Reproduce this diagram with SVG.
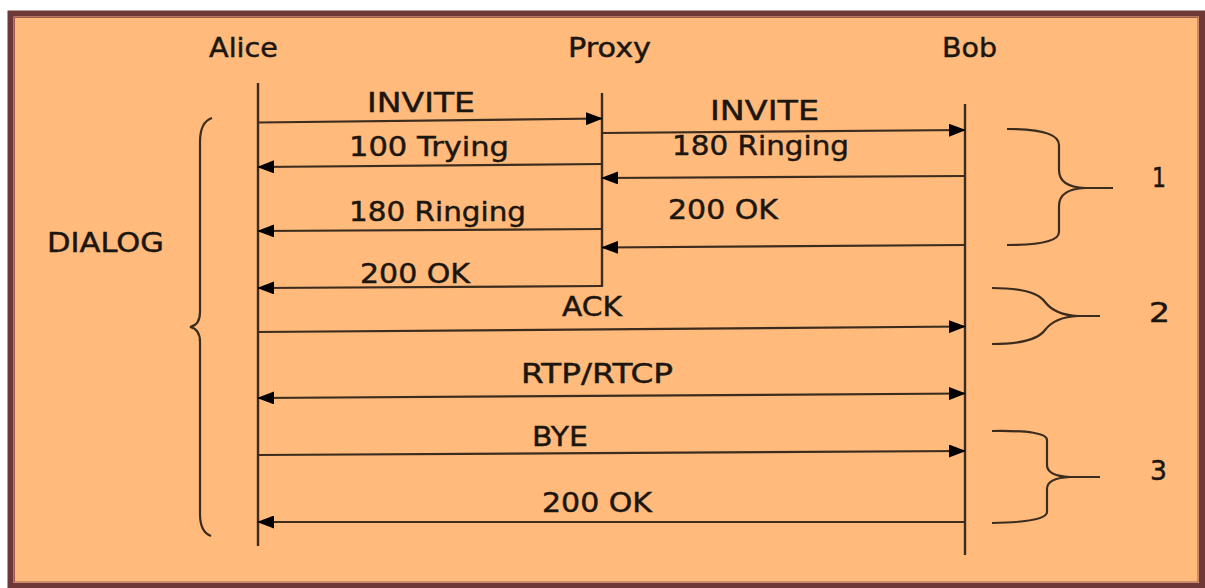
<svg xmlns="http://www.w3.org/2000/svg" width="1205" height="588" viewBox="0 0 1205 588">
<style>
.t{font-family:"DejaVu Sans","Verdana",sans-serif;font-size:26px;fill:#1c1610;stroke:#1c1610;stroke-width:0.45}
.ll{stroke:#3b2c1e;stroke-width:2.4;fill:none}
.m{stroke:#3b2c1e;stroke-width:2.2;fill:none}
.br{stroke:#3b2c1e;stroke-width:2.2;fill:none}
</style>
<defs>
<marker id="ah" markerWidth="17" markerHeight="13" refX="16" refY="6.5" orient="auto-start-reverse" markerUnits="userSpaceOnUse">
<path d="M0,0 L17,6.5 L0,13 z" fill="#000"/>
</marker>
</defs>
<rect width="1205" height="588" fill="#fff"/>
<rect x="10.5" y="13.5" width="1191.5" height="572.5" fill="#FFBA7C" stroke="#6e3838" stroke-width="6"/>
<rect x="14.5" y="17.5" width="1183.5" height="564.5" fill="none" stroke="#9a5a50" stroke-width="1"/>

<g id="alice">
<text class="t" x="209" y="57" textLength="69" lengthAdjust="spacingAndGlyphs">Alice</text>
<line class="ll" x1="258" y1="83" x2="258" y2="546"/>
</g>
<g id="proxy">
<text class="t" x="568" y="57" textLength="83" lengthAdjust="spacingAndGlyphs">Proxy</text>
<line class="ll" x1="602" y1="93" x2="602" y2="287"/>
</g>
<g id="bob">
<text class="t" x="942" y="57" textLength="55" lengthAdjust="spacingAndGlyphs">Bob</text>
<line class="ll" x1="965" y1="104" x2="965" y2="555"/>
</g>

<g id="connectors">
<line class="m" x1="258" y1="122.5" x2="602" y2="118.5" marker-end="url(#ah)"/>
<line class="m" x1="602" y1="133" x2="965" y2="130" marker-end="url(#ah)"/>
<line class="m" x1="602" y1="164" x2="258" y2="167" marker-end="url(#ah)"/>
<line class="m" x1="965" y1="176" x2="602" y2="178" marker-end="url(#ah)"/>
<line class="m" x1="602" y1="229" x2="258" y2="231" marker-end="url(#ah)"/>
<line class="m" x1="965" y1="245" x2="602" y2="247.5" marker-end="url(#ah)"/>
<line class="m" x1="602" y1="286" x2="258" y2="288" marker-end="url(#ah)"/>
<line class="m" x1="258" y1="332" x2="965" y2="326.5" marker-end="url(#ah)"/>
<line class="m" x1="258" y1="398" x2="965" y2="393.5" marker-start="url(#ah)" marker-end="url(#ah)"/>
<line class="m" x1="258" y1="455" x2="965" y2="451" marker-end="url(#ah)"/>
<line class="m" x1="965" y1="522" x2="258" y2="522" marker-end="url(#ah)"/>
</g>

<g id="labels">
<text class="t" x="367" y="112" textLength="108" lengthAdjust="spacingAndGlyphs">INVITE</text>
<text class="t" x="710" y="120" textLength="109" lengthAdjust="spacingAndGlyphs">INVITE</text>
<text class="t" x="349" y="156" textLength="160" lengthAdjust="spacingAndGlyphs">100 Trying</text>
<text class="t" x="672" y="155" textLength="177" lengthAdjust="spacingAndGlyphs">180 Ringing</text>
<text class="t" x="349" y="221" textLength="177" lengthAdjust="spacingAndGlyphs">180 Ringing</text>
<text class="t" x="668" y="219" textLength="110" lengthAdjust="spacingAndGlyphs">200 OK</text>
<text class="t" x="360" y="283" textLength="110" lengthAdjust="spacingAndGlyphs">200 OK</text>
<text class="t" x="562" y="316" textLength="60" lengthAdjust="spacingAndGlyphs">ACK</text>
<text class="t" x="521" y="383" textLength="152" lengthAdjust="spacingAndGlyphs">RTP/RTCP</text>
<text class="t" x="532" y="446" textLength="56" lengthAdjust="spacingAndGlyphs">BYE</text>
<text class="t" x="542" y="512" textLength="110" lengthAdjust="spacingAndGlyphs">200 OK</text>
</g>

<g id="dialog">
<path class="br" d="M212,118 Q200,122 200,142 L200,312 Q200,325 190,327 Q200,329 200,342 L200,514 Q200,532 211,536"/>
<text class="t" x="47" y="252" textLength="117" lengthAdjust="spacingAndGlyphs">DIALOG</text>
</g>
<g id="phase1">
<path class="br" d="M1007,129 Q1059,129 1059,145 L1059,170 Q1059,187 1085,188 L1113,188 M1007,245 Q1059,245 1059,232 L1059,206 Q1059,189 1085,188"/>
<text class="t" x="1152" y="187" textLength="14" lengthAdjust="spacingAndGlyphs">1</text>
</g>
<g id="phase2">
<path class="br" d="M992,288 Q1035,288 1045,302 Q1055,315 1078,316 L1100,316 M992,344 Q1035,344 1045,330 Q1055,317 1078,316"/>
<text class="t" x="1149" y="322" textLength="21" lengthAdjust="spacingAndGlyphs">2</text>
</g>
<g id="phase3">
<path class="br" d="M992,431 Q1047,430 1047,440 L1047,465 Q1047,476 1070,477 L1100,477 M992,523 Q1047,522 1047,512 L1047,489 Q1047,478 1070,477"/>
<text class="t" x="1150" y="480" textLength="17" lengthAdjust="spacingAndGlyphs">3</text>
</g>
</svg>
